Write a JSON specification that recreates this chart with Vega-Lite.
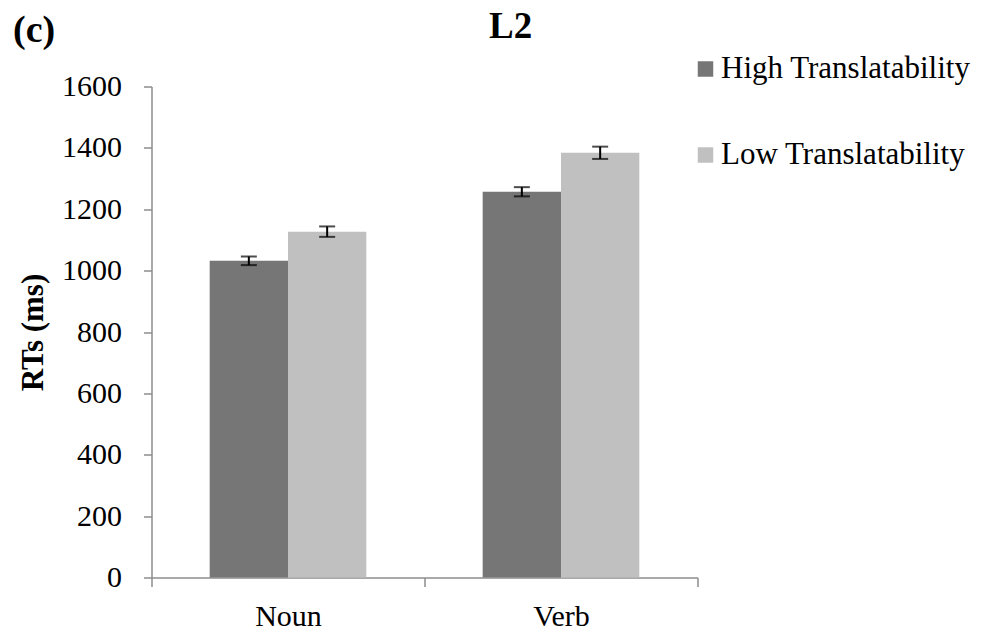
{
  "$schema": "https://vega.github.io/schema/vega-lite/v6.json",
  "width": 546,
  "height": 491,
  "autosize": "none",
  "padding": {"left": 151.5, "top": 86.5, "right": 286.5, "bottom": 56.5},
  "background": "white",
  "title": {
    "text": "L2",
    "anchor": "start",
    "frame": "group",
    "dx": 337.5,
    "dy": 38,
    "fontSize": 37,
    "fontWeight": "bold",
    "font": "Liberation Serif",
    "color": "black"
  },
  "data": {
    "values": [
      {"Category": "Noun", "Series": "High Translatability", "value": 1032, "err": 14},
      {"Category": "Noun", "Series": "Low Translatability", "value": 1127, "err": 17},
      {"Category": "Verb", "Series": "High Translatability", "value": 1257, "err": 15},
      {"Category": "Verb", "Series": "Low Translatability", "value": 1384, "err": 20}
    ]
  },
  "layer": [
    {
      "mark": {"type": "bar"},
      "encoding": {
        "x": {
          "field": "Category",
          "type": "nominal",
          "scale": {"paddingInner": 0, "paddingOuter": 0},
          "axis": {
            "title": null,
            "orient": "bottom",
            "tickBand": "extent",
            "tickSize": 9,
            "labelPadding": 15,
            "labelAngle": 0,
            "labelFontSize": 30,
            "labelFont": "Liberation Serif",
            "labelColor": "black",
            "domainColor": "#8c8c8c",
            "domainWidth": 1.5,
            "tickColor": "#8c8c8c",
            "tickWidth": 1.5
          }
        },
        "xOffset": {
          "field": "Series",
          "type": "nominal",
          "scale": {"paddingInner": 0, "paddingOuter": 0.743}
        },
        "y": {
          "field": "value",
          "type": "quantitative",
          "title": "RTs (ms)",
          "scale": {"domain": [0, 1600], "nice": false},
          "axis": {
            "title": "RTs (ms)",
            "format": "d",
            "titleFont": "Liberation Serif",
            "titleFontSize": 31,
            "titleFontWeight": "bold",
            "titleColor": "black",
            "titleX": -109,
            "titleBaseline": "alphabetic",
            "values": [0, 200, 400, 600, 800, 1000, 1200, 1400, 1600],
            "grid": false,
            "tickSize": 8,
            "labelPadding": 22,
            "labelFontSize": 30,
            "labelFont": "Liberation Serif",
            "labelColor": "black",
            "domainColor": "#8c8c8c",
            "domainWidth": 1.5,
            "tickColor": "#8c8c8c",
            "tickWidth": 1.5
          }
        },
        "color": {
          "field": "Series",
          "type": "nominal",
          "scale": {
            "domain": ["High Translatability", "Low Translatability"],
            "range": ["#767676", "#c0c0c0"]
          },
          "legend": {
            "title": null,
            "orient": "none",
            "legendX": 538.5,
            "legendY": -33,
            "padding": 0,
            "symbolType": "square",
            "symbolSize": 240,
            "symbolStrokeWidth": 0,
            "symbolOpacity": 1,
            "labelFontSize": 31,
            "labelFont": "Liberation Serif",
            "labelColor": "black",
            "labelLimit": 400,
            "labelOffset": 0,
            "rowPadding": 54
          }
        }
      }
    },
    {
      "mark": {"type": "errorbar", "ticks": true, "size": 16, "thickness": 2, "color": "black"},
      "encoding": {
        "x": {
          "field": "Category",
          "type": "nominal",
          "axis": {
            "orient": "top",
            "title": "(c)",
            "domain": false,
            "ticks": false,
            "labels": false,
            "titleX": -139,
            "titleY": -45,
            "titleAlign": "left",
            "titleBaseline": "alphabetic",
            "titleAnchor": null,
            "titleFont": "Liberation Serif",
            "titleFontSize": 38,
            "titleFontWeight": "bold",
            "titleColor": "black"
          }
        },
        "xOffset": {"field": "Series", "type": "nominal"},
        "y": {"field": "value", "type": "quantitative", "title": "RTs (ms)"},
        "yError": {"field": "err"}
      }
    }
  ],
  "resolve": {"axis": {"x": "independent"}},
  "config": {
    "view": {"stroke": null},
    "font": "Liberation Serif"
  }
}
